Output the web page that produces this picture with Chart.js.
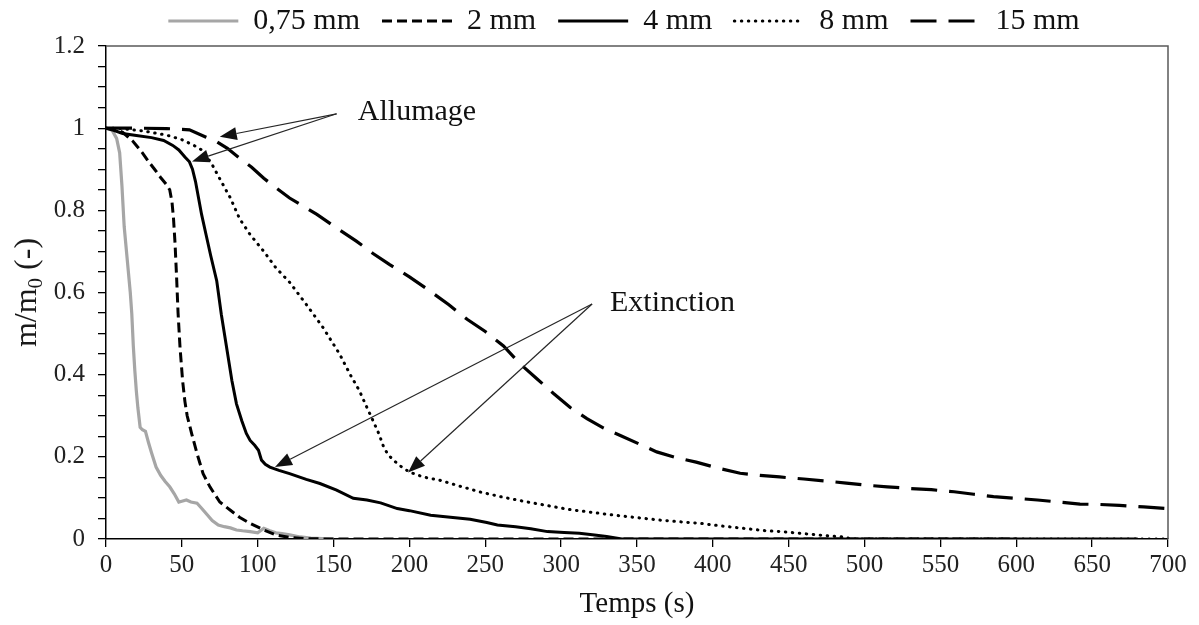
<!DOCTYPE html>
<html>
<head>
<meta charset="utf-8">
<script src="https://cdn.jsdelivr.net/npm/chart.js@4.4.1/dist/chart.umd.min.js"></script>
<style>
  html, body { margin: 0; padding: 0; background: #fff; }
  canvas { display: block; }
</style>
</head>
<body>
<canvas id="chart" width="1199" height="625"></canvas>
<script>
// === Data (time in s, m/m0) ===
const SERIES_NAMES = ['0,75 mm', '2 mm', '4 mm', '8 mm', '15 mm'];

const T_075 = [0, 4, 7, 9, 10.5, 12, 14, 16, 17, 18, 19, 20, 21, 22.5, 24, 26, 28, 30, 33, 36, 39, 42, 45, 48, 50, 53, 56, 60, 63, 66, 70, 74, 78, 82, 86, 90, 95, 100, 104, 108, 112, 116, 121, 128, 135, 150];
const M_075 = [1, 0.995, 0.975, 0.94, 0.86, 0.76, 0.68, 0.6, 0.548, 0.47, 0.41, 0.36, 0.32, 0.272, 0.266, 0.262, 0.235, 0.21, 0.175, 0.155, 0.14, 0.127, 0.11, 0.09, 0.092, 0.095, 0.09, 0.087, 0.075, 0.062, 0.045, 0.034, 0.03, 0.027, 0.022, 0.02, 0.018, 0.015, 0.026, 0.02, 0.015, 0.013, 0.01, 0.005, 0.002, 0];

const T_2 = [0, 5, 11, 18, 24, 28, 32, 36, 40, 42, 43.5, 44.5, 45.5, 46.5, 47.5, 48.8, 50.5, 52, 53.5, 56.5, 60, 64, 68.5, 75, 82, 88, 95, 104, 112, 121, 132, 145, 600];
const M_2 = [1, 0.998, 0.99, 0.967, 0.94, 0.919, 0.9, 0.88, 0.862, 0.85, 0.82, 0.78, 0.72, 0.64, 0.55, 0.466, 0.385, 0.335, 0.3, 0.256, 0.208, 0.159, 0.127, 0.09, 0.07, 0.053, 0.038, 0.022, 0.01, 0.004, 0.001, 0, 0];

const T_4 = [0, 5, 11, 20, 30, 38, 44, 48, 52, 55, 57, 59, 61, 63, 66, 69, 73, 76, 79.5, 83, 86, 89.5, 92.5, 95, 98, 100.5, 102.5, 105, 108, 114, 121, 132, 141, 152, 163, 172, 181, 192, 200, 214, 227, 240, 251, 258, 270, 280, 291, 302, 312, 322, 330, 340, 680];
const M_4 = [1, 0.995, 0.987, 0.982, 0.977, 0.97, 0.958, 0.947, 0.93, 0.918, 0.9, 0.87, 0.83, 0.79, 0.74, 0.69, 0.628, 0.547, 0.466, 0.385, 0.329, 0.288, 0.257, 0.24, 0.228, 0.216, 0.192, 0.182, 0.175, 0.167, 0.159, 0.145, 0.135, 0.119, 0.099, 0.095, 0.088, 0.074, 0.069, 0.058, 0.053, 0.048, 0.04, 0.034, 0.03, 0.025, 0.018, 0.016, 0.014, 0.01, 0.006, 0, 0];

const T_8 = [0, 10, 25, 40, 50, 58, 64, 70, 76, 82, 88, 95, 104, 112, 121, 132, 143, 154, 161, 167, 172, 176, 180, 183, 186, 190, 195, 200, 209, 220, 231, 246, 260, 275, 290, 305, 320, 335, 350, 365, 378, 392, 405, 420, 435, 445, 460, 475, 486, 492, 700];
const M_8 = [1, 0.999, 0.993, 0.983, 0.972, 0.958, 0.945, 0.911, 0.87, 0.83, 0.78, 0.741, 0.7, 0.66, 0.625, 0.571, 0.515, 0.45, 0.4, 0.361, 0.32, 0.288, 0.255, 0.224, 0.205, 0.19, 0.175, 0.163, 0.151, 0.143, 0.131, 0.115, 0.103, 0.092, 0.082, 0.072, 0.065, 0.058, 0.052, 0.046, 0.042, 0.038, 0.032, 0.026, 0.02, 0.018, 0.013, 0.008, 0.005, 0, 0];

const T_15 = [0, 20, 40, 55, 66, 73, 80, 88, 96, 104, 112, 121, 130, 139, 152, 165, 176, 187, 200, 213, 226, 238, 250, 262, 273, 284, 295, 306, 317, 328, 339, 351, 363, 376, 389, 404, 418, 431, 444, 460, 475, 488, 501, 515, 530, 544, 559, 572, 585, 600, 614, 628, 642, 655, 668, 684, 700];
const M_15 = [1, 1, 0.999, 0.996, 0.978, 0.967, 0.951, 0.927, 0.905, 0.878, 0.855, 0.83, 0.81, 0.79, 0.757, 0.725, 0.695, 0.668, 0.638, 0.605, 0.57, 0.535, 0.505, 0.47, 0.426, 0.39, 0.354, 0.32, 0.293, 0.27, 0.252, 0.232, 0.212, 0.198, 0.187, 0.172, 0.16, 0.155, 0.151, 0.146, 0.141, 0.136, 0.131, 0.127, 0.123, 0.12, 0.115, 0.109, 0.103, 0.099, 0.095, 0.09, 0.085, 0.084, 0.082, 0.078, 0.074];

const X_MIN = 0, X_MAX = 700, X_STEP = 50;
const Y_MIN = 0, Y_MAX = 1.2, Y_STEP = 0.05, Y_LABEL_EVERY = 0.2;

// Annotations (data coordinates): arrow start, arrow tips, text anchor
const ANNOTATIONS = [
    { text: 'Allumage', from: [152, 1.035], tips: [[75, 0.979], [56.7, 0.919]], label: [166, 1.021] },
    { text: 'Extinction', from: [320.4, 0.572], tips: [[111.4, 0.175], [199.1, 0.162]], label: [332.2, 0.555] }
];

const FONT = "'Liberation Serif', 'Times New Roman', serif";
const toPoints = (ts, ms) => ts.map((t, i) => ({ x: t, y: ms[i] }));

// === Plugins ===
// Cadre gris haut/droite + zone des labels Y élargie
const framePlugin = {
    id: 'frame',
    afterLayout(chart) {
        // laisse les labels Y déborder dans la marge gauche (sinon ils sont rognés)
        chart.scales.y.left = 0;
    },
    afterDraw(chart) {
        const { ctx, chartArea: a } = chart;
        ctx.save();
        ctx.strokeStyle = '#5a5a5a';
        ctx.lineWidth = 1.5;
        ctx.beginPath();
        ctx.moveTo(a.left, a.top);
        ctx.lineTo(a.right, a.top);
        ctx.lineTo(a.right, a.bottom);
        ctx.stroke();
        ctx.restore();
    }
};

// Titre Y avec indice
const yTitlePlugin = {
    id: 'yTitle',
    afterDraw(chart) {
        const { ctx, chartArea: a } = chart;
        const main = `32px ${FONT}`, sub = `21px ${FONT}`;
        ctx.save();
        ctx.translate(28, (a.top + a.bottom) / 2);
        ctx.rotate(-Math.PI / 2);
        ctx.fillStyle = '#1a1a1a';
        ctx.textBaseline = 'middle';
        ctx.font = main;
        const w1 = ctx.measureText('m/m').width;
        const w3 = ctx.measureText(' (-)').width;
        ctx.font = sub;
        const w2 = ctx.measureText('0').width;
        let x = -(w1 + w2 + w3) / 2;
        ctx.font = main;
        ctx.fillText('m/m', x, 0);
        x += w1;
        ctx.font = sub;
        ctx.fillText('0', x, 8);
        x += w2;
        ctx.font = main;
        ctx.fillText(' (-)', x, 0);
        ctx.restore();
    }
};

// Flèches et textes
const annotationPlugin = {
    id: 'arrows',
    afterDatasetsDraw(chart) {
        const { ctx, scales: { x, y } } = chart;
        const px = p => [x.getPixelForValue(p[0]), y.getPixelForValue(p[1])];
        ctx.save();
        ctx.strokeStyle = '#262626';
        ctx.fillStyle = '#111';
        ctx.lineWidth = 1.2;
        ANNOTATIONS.forEach(an => {
            const [sx, sy] = px(an.from);
            an.tips.forEach(tip => {
                const [tx, ty] = px(tip);
                const ang = Math.atan2(ty - sy, tx - sx);
                const len = 17, half = 6.5;
                const bx = tx - len * Math.cos(ang), by = ty - len * Math.sin(ang);
                ctx.beginPath();
                ctx.moveTo(sx, sy);
                ctx.lineTo(bx, by);
                ctx.stroke();
                ctx.beginPath();
                ctx.moveTo(tx, ty);
                ctx.lineTo(bx + half * Math.sin(ang), by - half * Math.cos(ang));
                ctx.lineTo(bx - half * Math.sin(ang), by + half * Math.cos(ang));
                ctx.closePath();
                ctx.fill();
            });
            const [lx, ly] = px(an.label);
            ctx.font = `30px ${FONT}`;
            ctx.textBaseline = 'alphabetic';
            ctx.textAlign = 'left';
            ctx.fillStyle = '#111';
            ctx.fillText(an.text, lx, ly);
        });
        ctx.restore();
    }
};

// === Styles des séries ===
const STYLES = [
    { color: '#a6a6a6', width: 3.2, dash: [], cap: 'butt' },
    { color: '#000', width: 3, dash: [10, 5], cap: 'butt' },
    { color: '#000', width: 3, dash: [], cap: 'butt' },
    { color: '#000', width: 3, dash: [0.5, 6.5], cap: 'round' },
    { color: '#000', width: 3.2, dash: [26, 12], cap: 'butt' }
];
const SERIES = [toPoints(T_075, M_075), toPoints(T_2, M_2), toPoints(T_4, M_4), toPoints(T_8, M_8), toPoints(T_15, M_15)];

const datasets = SERIES.map((pts, i) => ({
    label: SERIES_NAMES[i],
    data: pts,
    borderColor: STYLES[i].color,
    backgroundColor: STYLES[i].color,
    borderWidth: STYLES[i].width,
    borderDash: STYLES[i].dash,
    borderCapStyle: STYLES[i].cap,
    pointRadius: 0,
    tension: 0,
    fill: false,
    order: SERIES.length - i
}));

new Chart(document.getElementById('chart').getContext('2d'), {
    type: 'line',
    data: { datasets },
    options: {
        responsive: false,
        animation: false,
        layout: { padding: { left: 80, right: 31, top: -16, bottom: 0 } },
        plugins: {
            legend: {
                position: 'top',
                labels: {
                    usePointStyle: true,
                    pointStyle: 'line',
                    pointStyleWidth: 70,
                    padding: 22,
                    color: '#111',
                    font: { family: FONT, size: 30 },
                    sort: (a, b) => a.datasetIndex - b.datasetIndex,
                    // style de trait repris du dataset (pointillés inclus)
                    generateLabels: chart => Chart.defaults.plugins.legend.labels.generateLabels(chart).map(item => {
                        const ds = chart.data.datasets[item.datasetIndex];
                        return Object.assign(item, {
                            lineDash: ds.borderDash,
                            lineCap: ds.borderCapStyle,
                            lineWidth: ds.borderWidth,
                            strokeStyle: ds.borderColor,
                            pointStyle: 'line'
                        });
                    })
                }
            },
            tooltip: { enabled: false }
        },
        scales: {
            x: {
                type: 'linear',
                min: X_MIN,
                max: X_MAX,
                afterFit: s => { s.height = 86; },
                border: { display: true, color: '#000', width: 1.5 },
                grid: { drawOnChartArea: false, drawTicks: true, tickLength: 8, color: '#000', lineWidth: 1.3 },
                ticks: {
                    stepSize: X_STEP,
                    autoSkip: false,
                    maxRotation: 0,
                    padding: 3,
                    color: '#222',
                    font: { family: FONT, size: 25 }
                },
                title: {
                    display: true,
                    text: 'Temps (s)',
                    color: '#111',
                    font: { family: FONT, size: 29 },
                    padding: { top: 0, bottom: 3 }
                }
            },
            y: {
                min: Y_MIN,
                max: Y_MAX,
                afterFit: s => { s.width = 26; },
                border: { display: true, color: '#000', width: 1.5 },
                grid: { drawOnChartArea: false, drawTicks: true, tickLength: 8, color: '#000', lineWidth: 1.3 },
                ticks: {
                    stepSize: Y_STEP,
                    autoSkip: false,
                    padding: 13,
                    color: '#222',
                    font: { family: FONT, size: 25 },
                    callback: v => {
                        const r = Math.round(v * 100);
                        return r % Math.round(Y_LABEL_EVERY * 100) === 0 ? String(Number(v.toFixed(1))) : '';
                    }
                }
            }
        }
    },
    plugins: [framePlugin, yTitlePlugin, annotationPlugin]
});
</script>
</body>
</html>
